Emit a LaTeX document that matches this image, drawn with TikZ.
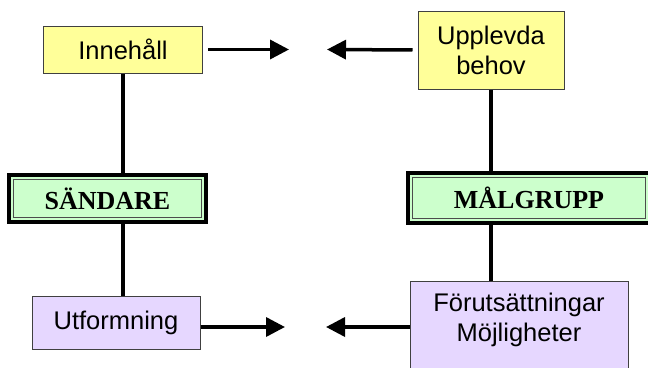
\documentclass[tikz,border=0pt]{standalone}
\usepackage{fontspec}
\setmainfont{Liberation Serif}
\setsansfont{Liberation Sans}
\usepackage{color}
\usetikzlibrary{arrows.meta}

\definecolor{boxyellow}{RGB}{255,255,153}
\definecolor{boxgreen}{RGB}{204,255,204}
\definecolor{boxlilac}{RGB}{230,215,255}

\tikzset{
  plainbox/.style={draw=black!75, line width=1pt, inner sep=0pt, align=center,
    font=\sffamily\fontsize{25.5}{30}\selectfont},
  rolebox/.style={draw=black, line width=3.5pt, fill=boxgreen, inner sep=0pt,
    font=\rmfamily\bfseries\fontsize{26}{30}\selectfont,
    path picture={\draw[line width=1.2pt, black!70]
      ([shift={(4.5pt,-4.5pt)}]path picture bounding box.north west) rectangle
      ([shift={(-4.5pt,4.5pt)}]path picture bounding box.south east);}},
  link/.style={line width=3.5pt},
  flow/.style={line width=3.5pt, -{Triangle[length=19pt,width=19pt]}}
}

\begin{document}
\begin{tikzpicture}[x=1pt, y=-1pt]
\useasboundingbox (0,0) rectangle (648,367);
\clip (0,0) rectangle (648,367);
%% boxes
\node[plainbox, fill=boxyellow, minimum width=159pt, minimum height=47pt] (inneh) at (123,49.5) {Innehåll};
\node[plainbox, fill=boxyellow, minimum width=146pt, minimum height=78pt] (behov) at (491,50) {Upplevda\\behov};
\node[rolebox, minimum width=197pt, minimum height=47pt] (sand) at (107.5,198.5) {SÄNDARE};
\node[rolebox, minimum width=242pt, minimum height=50pt] (malg) at (529,198) {MÅLGRUPP};
\node[plainbox, fill=boxlilac, minimum width=168pt, minimum height=53pt] (utf) at (116,322.5) {Utformning};
\node[plainbox, fill=boxlilac, minimum width=218pt, minimum height=120pt, text depth=47pt] (forut) at (519,341) {Förutsättningar\\Möjligheter};
%% arrow ends
\coordinate (t1) at (289,49.5);
\coordinate (t2) at (327,49.5);
\coordinate (t3) at (285,327);
\coordinate (t4) at (326,327);
%% connectors
\draw[link] (inneh.south) -- (inneh.south |- sand.north);
\draw[link] (inneh.south |- sand.south) -- (inneh.south |- utf.north);
\draw[link] (behov.south) -- (behov.south |- malg.north);
\draw[link] (behov.south |- malg.south) -- (behov.south |- forut.north);
\draw[flow, shorten <=5pt] (inneh.east) -- (t1);
\draw[flow, shorten <=5pt] (behov.west) -- (t2);
\draw[flow] (utf.east |- t3) -- (t3);
\draw[flow] (forut.west |- t4) -- (t4);
\end{tikzpicture}
\end{document}
